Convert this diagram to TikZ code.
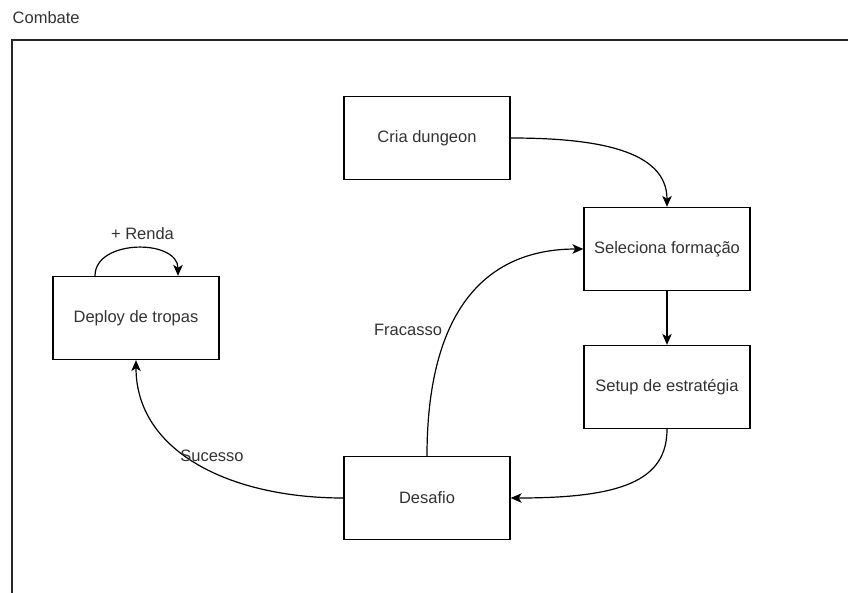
\documentclass[tikz,border=0pt]{standalone}
\usepackage{fontspec}
\setmainfont{Liberation Sans}
\usetikzlibrary{arrows.meta}
\definecolor{ink}{HTML}{333333}
\tikzset{
  stepbox/.style={draw=black, line width=1.3pt, minimum width=166pt, minimum height=83pt,
    inner sep=0pt, text=ink, font=\fontsize{16.5}{20}\selectfont},
  lbl/.style={inner sep=0pt, text=ink, font=\fontsize{16.5}{20}\selectfont},
  flow/.style={draw=black, line width=1.2pt, -{Stealth[length=11pt,width=9.5pt,inset=3pt]}},
}
\begin{document}
\begin{tikzpicture}[x=1pt, y=-1pt]
  \useasboundingbox (0,0) rectangle (848,592);
  \clip (0,0) rectangle (848,592);
  \fill[white] (0,0) rectangle (848,592);

  % container frame with its caption
  \draw[line width=1.3pt, draw=black!85] (12,40) rectangle (900,650);
  \node[lbl, anchor=west] (title) at (12.5,18) {Combate};

  % process steps
  \node[stepbox] (cria)    at (427,138) {Cria dungeon};
  \node[stepbox] (sel)     at (667,249) {Seleciona formação};
  \node[stepbox] (setup)   at (667,387) {Setup de estratégia};
  \node[stepbox] (desafio) at (427,498) {Desafio};
  \node[stepbox] (deploy)  at (136,318) {Deploy de tropas};

  % transitions
  \draw[flow] (cria.east) .. controls +(85,0) and +(0,-57) .. (sel.north);
  \draw[flow] (sel.south) -- (setup.north);
  \draw[flow] (setup.south) .. controls +(0,52) and +(110,0) .. (desafio.east);
  \draw[flow] (desafio.north) .. controls +(0,-137) and +(-104,0) .. (sel.west);
  \draw[flow] (desafio.west) .. controls +(-114,0) and +(0,91) .. (deploy.south);
  \draw[flow] ([xshift=-41pt]deploy.north) .. controls +(0,-37) and +(0,-37) .. ([xshift=42pt]deploy.north);

  % transition labels
  \node[lbl] (renda)    at (142.5,234) {+ Renda};
  \node[lbl] (fracasso) at (408,330) {Fracasso};
  \node[lbl] (sucesso)  at (212,455.5) {Sucesso};
\end{tikzpicture}
\end{document}
